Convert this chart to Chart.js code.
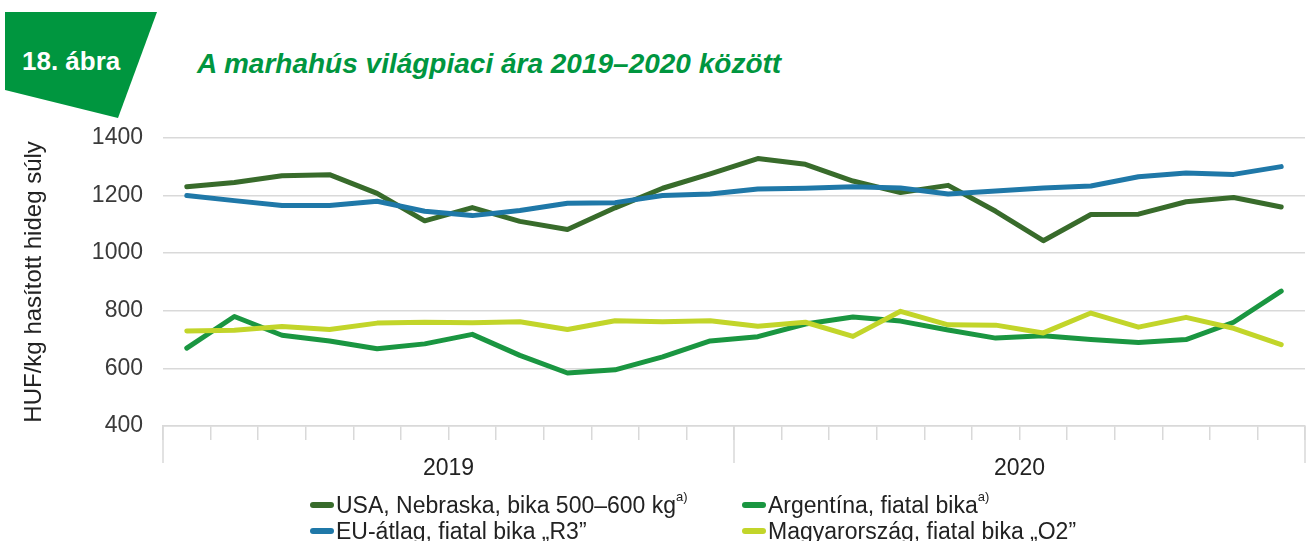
<!DOCTYPE html>
<html>
<head>
<meta charset="utf-8">
<script src="https://cdn.jsdelivr.net/npm/chart.js@4.4.1/dist/chart.umd.min.js"></script>
<style>
  body { margin: 0; background: #fff; width: 1309px; height: 541px; overflow: hidden; position: relative; font-family: "Liberation Sans", Arial, sans-serif; }
  #badge { position: absolute; left: 0; top: 0; }
  #badgeText { position: absolute; left: 22px; top: 46px; color: #fff; font-weight: bold; font-size: 26px; }
  #title { position: absolute; left: 197px; top: 48px; color: #00963f; font-weight: bold; font-style: italic; font-size: 28px; white-space: nowrap; }
  #chartBox { position: absolute; left: 0; top: 104px; }
  #legend { position: absolute; left: 0; top: 486px; width: 1309px; font-size: 23px; color: #222; }
  .item { position: absolute; white-space: nowrap; height: 28px; line-height: 28px; }
  .swatch { display: inline-block; width: 24px; height: 6px; border-radius: 3px; vertical-align: middle; margin-right: 2px; position: relative; top: -2px; }
  .item sup { font-size: 13px; position: relative; top: -3px; }
</style>
</head>
<body>
<svg id="badge" width="170" height="125">
  <polygon points="5,12 157,12 118,118 5,90" fill="#00963f"/>
</svg>
<div id="badgeText">18. ábra</div>
<div id="title">A marhahús világpiaci ára 2019–2020 között</div>
<div id="chartBox"><canvas id="canvas" width="1309" height="386"></canvas></div>
<div id="legend"></div>
<script>
// months Jan 2019 .. Dec 2020
const years = ['2019', '2020'];
const months = [];
years.forEach(y => { for (let m = 1; m <= 12; m++) months.push(y + '-' + String(m).padStart(2, '0')); });

const usa = [1230, 1245, 1268, 1272, 1207, 1112, 1158, 1110, 1082, 1157, 1225, 1275, 1328, 1308, 1250, 1210, 1235, 1145, 1043, 1134, 1135, 1178, 1193, 1160];
const argentina = [670, 780, 715, 695, 668, 685, 718, 645, 584, 595, 640, 695, 710, 754, 778, 764, 733, 705, 713, 700, 690, 700, 760, 868];
const eu = [1200, 1182, 1165, 1165, 1180, 1145, 1130, 1148, 1173, 1175, 1200, 1205, 1222, 1225, 1230, 1226, 1205, 1215, 1226, 1233, 1265, 1278, 1273, 1300];
const hungary = [730, 732, 745, 735, 757, 760, 758, 762, 735, 765, 762, 765, 746, 760, 711, 798, 751, 750, 723, 792, 743, 777, 739, 682];

const names = ['USA, Nebraska, bika 500–600 kg', 'Argentína, fiatal bika', 'EU-átlag, fiatal bika „R3”', 'Magyarország, fiatal bika „O2”'];
const notes = ['a)', 'a)', '', ''];
const colors = ['#386b2b', '#1a9641', '#1f78a8', '#c2d52a'];
const series = [usa, argentina, eu, hungary];
const yTicks = [400, 600, 800, 1000, 1200, 1400];

Chart.defaults.font.family = '"Liberation Sans", Arial, sans-serif';
Chart.defaults.color = '#3a3a3a';

// year labels and long separator ticks under the month ticks
const yearAxis = {
  id: 'yearAxis',
  afterDraw(chart) {
    const x = chart.scales.x;
    const ctx = chart.ctx;
    const bottom = chart.chartArea.bottom;
    const step = x.getPixelForValue(1) - x.getPixelForValue(0);
    ctx.save();
    ctx.strokeStyle = '#d9d9d9';
    ctx.lineWidth = 1.5;
    for (let b = 0; b <= months.length; b += 12) {
      const px = x.getPixelForValue(b) - step / 2;
      ctx.beginPath();
      ctx.moveTo(px, bottom);
      ctx.lineTo(px, bottom + 37);
      ctx.stroke();
    }
    ctx.fillStyle = '#222';
    ctx.font = '23px "Liberation Sans", Arial, sans-serif';
    ctx.textAlign = 'center';
    ctx.textBaseline = 'middle';
    years.forEach((y, i) => {
      const left = x.getPixelForValue(i * 12) - step / 2;
      const right = x.getPixelForValue(i * 12 + 11) + step / 2;
      ctx.fillText(y, (left + right) / 2, bottom + 43);
    });
    ctx.restore();
  }
};

const ctx = document.getElementById('canvas').getContext('2d');
const myChart = new Chart(ctx, {
  type: 'line',
  data: {
    labels: months,
    datasets: series.map((s, i) => ({
      label: names[i],
      data: s,
      borderColor: colors[i],
      backgroundColor: colors[i],
      borderWidth: 5,
      pointRadius: 0,
      tension: 0,
      borderCapStyle: 'round',
      borderJoinStyle: 'round',
      order: [3, 1, 2, 0][i]
    }))
  },
  options: {
    responsive: false,
    animation: false,
    layout: { padding: { top: 2, right: 4, left: 0, bottom: 0 } },
    plugins: { legend: { display: false }, tooltip: { enabled: false } },
    scales: {
      x: {
        offset: true,
        grid: { offset: true, drawOnChartArea: false, drawTicks: true, tickLength: 14, color: '#d9d9d9', lineWidth: 1.5 },
        border: { color: '#d9d9d9', width: 1.5 },
        ticks: { display: false, autoSkip: false },
        afterFit(scale) { scale.height = 64; }
      },
      y: {
        min: 400,
        max: 1400,
        afterBuildTicks(scale) { scale.ticks = yTicks.map(v => ({ value: v })); },
        grid: { color: '#d9d9d9', lineWidth: 1.5, drawTicks: false },
        border: { display: false },
        ticks: { padding: 20, font: { size: 23 }, color: '#3a3a3a', callback: v => String(v) },
        title: { display: true, text: 'HUF/kg hasított hideg súly', font: { size: 24 }, color: '#222', padding: { top: 20, bottom: 0 } },
        afterFit(scale) { scale.width = 163; }
      }
    }
  },
  plugins: [yearAxis]
});

// legend in two columns, as in the original figure
const legend = document.getElementById('legend');
const pos = [[310, 0], [742, 0], [310, 31], [742, 31]];
names.forEach((n, i) => {
  const d = document.createElement('div');
  d.className = 'item';
  d.style.left = pos[i][0] + 'px';
  d.style.top = pos[i][1] + 'px';
  d.innerHTML = '<span class="swatch" style="background:' + colors[i] + '"></span>' + n + (notes[i] ? '<sup>' + notes[i] + '</sup>' : '');
  legend.appendChild(d);
});
</script>
</body>
</html>
